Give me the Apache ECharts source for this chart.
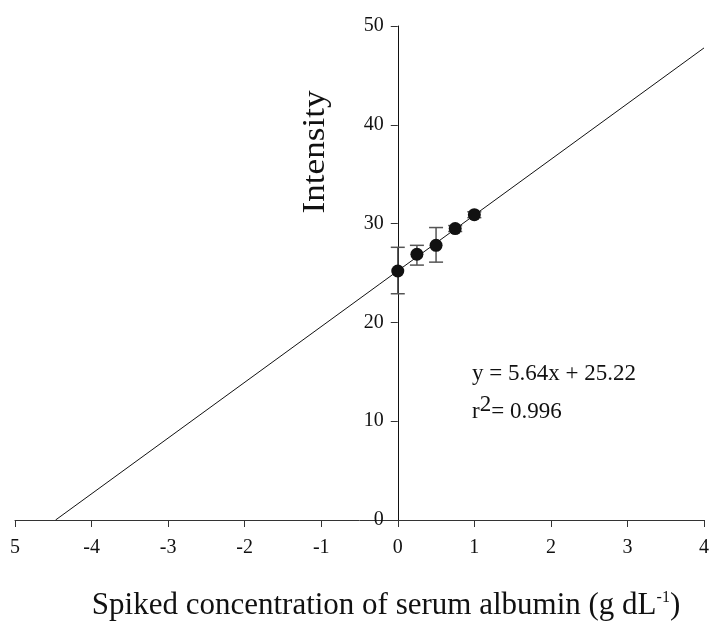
<!DOCTYPE html>
<html>
<head>
<meta charset="utf-8">
<script src="https://cdn.jsdelivr.net/npm/echarts@6/dist/echarts.min.js"></script>
<style>
html,body{margin:0;padding:0;background:#fff;}
#main{width:709px;height:628px;}
</style>
</head>
<body>
<div id="main"></div>
<script>
// spiked concentration (g/dL) and mean intensity
var conc = [0, 0.25, 0.5, 0.75, 1];
var intensity = [25.2, 26.9, 27.8, 29.5, 30.9];
var errLow = [22.9, 25.8, 26.1, 29.2, 30.6];
var errHigh = [27.6, 27.8, 29.6, 29.8, 31.2];
// regression line y = 5.64x + 25.22, end points
var fitX = [-4.47, 4];
var fitY = [0, 47.78];
var xTicks = [-5, -4, -3, -2, -1, 0, 1, 2, 3, 4];
var yTicks = [0, 10, 20, 30, 40, 50];

var font = 'Liberation Serif';
var gridLeft = 15, gridRight = 5, W = 709;
// y axis sits on x = 0
var yOffset = -(W - gridLeft - gridRight) * (0 - xTicks[0]) / (xTicks[xTicks.length - 1] - xTicks[0]);

var chart = echarts.init(document.getElementById('main'));

var points = conc.map(function(c, i){ return [c, intensity[i]]; });
var bars = conc.map(function(c, i){ return [c, errLow[i], errHigh[i]]; });
var fit = fitX.map(function(x, i){ return [x, fitY[i]]; });

chart.setOption({
  animation: false,
  grid: {left: gridLeft, right: gridRight, top: 26, bottom: 108, outerBoundsMode: 'none', containLabel: false},
  xAxis: {
    type: 'value', min: xTicks[0], max: xTicks[xTicks.length - 1], interval: 1,
    splitLine: {show: false},
    axisLine: {onZero: false, lineStyle: {color: '#333', width: 1}},
    axisTick: {length: 7, lineStyle: {color: '#333'}},
    axisLabel: {
      color: '#111', fontFamily: font, fontSize: 20, margin: 18,
      formatter: function(v){ return v === -5 ? '5' : String(v); }
    }
  },
  yAxis: {
    type: 'value', min: yTicks[0], max: yTicks[yTicks.length - 1], interval: 10,
    offset: yOffset,
    splitLine: {show: false},
    axisLine: {onZero: false, lineStyle: {color: '#111', width: 1}},
    axisTick: {length: 7, lineStyle: {color: '#333'}},
    axisLabel: {color: '#111', fontFamily: font, fontSize: 20, margin: 14}
  },
  graphic: [
    {
      type: 'text', x: 386, y: 606,
      style: {
        text: 'Spiked concentration of serum albumin (g dL{sup|-1})',
        rich: {sup: {fontSize: 16, verticalAlign: 'top', padding: [0, 0, 16, 0], fontFamily: font, fill: '#111'}},
        font: '31px "Liberation Serif"', fill: '#111',
        align: 'center', verticalAlign: 'middle'
      }
    },
    {
      type: 'text', x: 316, y: 152, rotation: Math.PI / 2, scaleX: 1.1,
      style: {text: 'Intensity', font: '32px "Liberation Serif"', fill: '#111', align: 'center', verticalAlign: 'middle'}
    },
    {
      type: 'text', x: 472, y: 374,
      style: {text: 'y = 5.64x + 25.22', font: '23px "Liberation Serif"', fill: '#111', verticalAlign: 'middle'}
    },
    {
      type: 'text', x: 472, y: 412,
      style: {
        text: 'r{sup|2}= 0.996',
        rich: {sup: {fontSize: 23, fontFamily: font, fill: '#111', padding: [0, 0, 14, 0]}},
        font: '23px "Liberation Serif"', fill: '#111', verticalAlign: 'middle'
      }
    }
  ],
  series: [
    {
      type: 'line', data: fit, symbol: 'none',
      lineStyle: {color: '#111', width: 1}, z: 1
    },
    {
      type: 'custom', data: bars, z: 2,
      renderItem: function(params, api){
        var x = api.value(0);
        var lo = api.coord([x, api.value(1)]);
        var hi = api.coord([x, api.value(2)]);
        var w = 7;
        var st = {stroke: '#555', lineWidth: 1.5};
        return {type: 'group', children: [
          {type: 'line', shape: {x1: lo[0], y1: lo[1], x2: hi[0], y2: hi[1]}, style: st},
          {type: 'line', shape: {x1: lo[0]-w, y1: lo[1], x2: lo[0]+w, y2: lo[1]}, style: st},
          {type: 'line', shape: {x1: hi[0]-w, y1: hi[1], x2: hi[0]+w, y2: hi[1]}, style: st}
        ]};
      }
    },
    {
      type: 'scatter', data: points, symbolSize: 13, z: 3,
      itemStyle: {color: '#111', opacity: 1}
    }
  ]
});
</script>
</body>
</html>
